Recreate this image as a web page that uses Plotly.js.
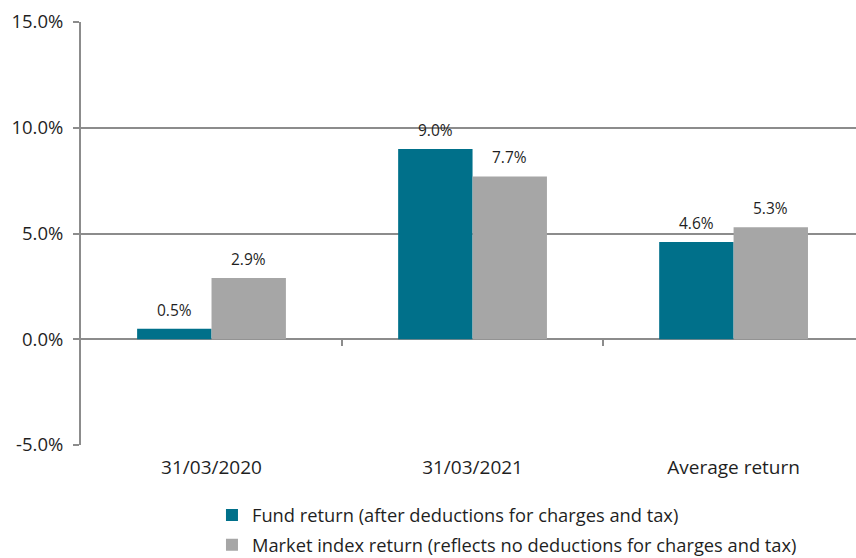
<!DOCTYPE html>
<html>
<head>
<meta charset="utf-8">
<script src="https://cdn.plot.ly/plotly-3.0.1.min.js"></script>
<style>html,body{margin:0;padding:0;background:#fff;}#chart{width:856px;height:558px;}</style>
</head>
<body>
<div id="chart"></div>
<script>
const categories = ['31/03/2020', '31/03/2021', 'Average return'];
const fundName = 'Fund return (after deductions for charges and tax)';
const marketName = 'Market index return (reflects no deductions for charges and tax)';
const fundValues = [0.5, 9.0, 4.6];
const marketValues = [2.9, 7.7, 5.3];
const yTicks = [-5, 0, 5, 10, 15];
const boundaryTicks = [0.5, 1.5];

const FONT = '"Open Sans", sans-serif';
const TEAL = '#00708A';
const GREY = '#A6A6A6';
const LINE = '#8C8C8C';
const TXT = '#1F1F1F';

const traces = [
  {type: 'bar', name: fundName, x: categories, y: fundValues,
   marker: {color: TEAL}, legendgroup: 'a', hoverinfo: 'skip'},
  {type: 'bar', name: marketName, x: categories, y: marketValues,
   marker: {color: GREY}, legendgroup: 'b', hoverinfo: 'skip'},
  {type: 'scatter', mode: 'markers', x: boundaryTicks, y: [null, null], xaxis: 'x2',
   showlegend: false, hoverinfo: 'skip'}
];

const BAR_HALF = 37;
const annotations = [];
categories.forEach((c, i) => {
  annotations.push({x: c, y: fundValues[i], xref: 'x', yref: 'y', text: fundValues[i].toFixed(1) + '%',
    showarrow: false, xshift: -BAR_HALF, yshift: 19, yanchor: 'middle',
    font: {family: FONT, size: 15.5, color: TXT}});
  annotations.push({x: c, y: marketValues[i], xref: 'x', yref: 'y', text: marketValues[i].toFixed(1) + '%',
    showarrow: false, xshift: BAR_HALF, yshift: 19, yanchor: 'middle',
    font: {family: FONT, size: 15.5, color: TXT}});
});

const layout = {
  width: 856, height: 558,
  margin: {l: 81, r: 0, t: 22, b: 113, autoexpand: false},
  paper_bgcolor: '#fff', plot_bgcolor: '#fff',
  font: {family: FONT, size: 18, color: TXT},
  barmode: 'group', bargap: 0.43, bargroupgap: 0,
  showlegend: true,
  annotations: annotations,
  legend: {orientation: 'v', x: 0.169, xanchor: 'left', y: -0.122, yanchor: 'top',
           traceorder: 'grouped', tracegroupgap: 3, font: {family: FONT, size: 18.3, color: TXT}},
  xaxis: {type: 'category', range: [-0.5, 2.469], showgrid: false, zeroline: false,
          showline: false, ticks: '', tickfont: {family: FONT, size: 19, color: TXT},
          ticklabelstandoff: 9},
  xaxis2: {overlaying: 'x', anchor: 'free', position: 0.25, range: [-0.5, 2.469],
           tickvals: boundaryTicks, ticks: 'outside', ticklen: 6, tickwidth: 2, tickcolor: LINE,
           showticklabels: false, showgrid: false, zeroline: false, showline: false, side: 'bottom'},
  yaxis: {range: [-5, 15], tickvals: yTicks, ticktext: yTicks.map(v => v.toFixed(1) + '%'),
          showgrid: true, gridcolor: LINE, gridwidth: 2,
          zeroline: true, zerolinecolor: LINE, zerolinewidth: 2,
          showline: true, linecolor: LINE, linewidth: 2,
          ticks: 'outside', ticklen: 6, tickwidth: 2, tickcolor: LINE,
          tickfont: {family: FONT, size: 18.5, color: TXT}, ticklabelstandoff: 6}
};

Plotly.newPlot('chart', traces, layout, {staticPlot: true, displayModeBar: false});
</script>
</body>
</html>
